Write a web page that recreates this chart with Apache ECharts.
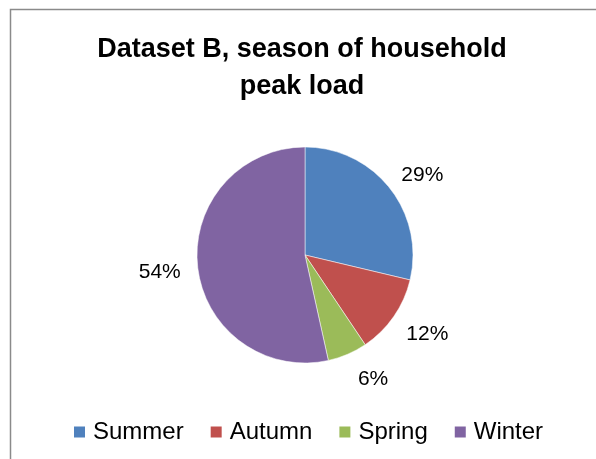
<!DOCTYPE html>
<html>
<head>
<meta charset="utf-8">
<script src="https://cdn.jsdelivr.net/npm/echarts@6/dist/echarts.min.js"></script>
<style>
  html, body { margin: 0; padding: 0; background: #fff; }
  #chart { width: 596px; height: 459px; }
</style>
</head>
<body>
<div id="chart"></div>
<script>
// data
const seasons = ['Summer', 'Autumn', 'Spring', 'Winter']
const shares = [29, 12, 6, 54]
const colors = ['#4F81BD', '#C0504D', '#9BBB59', '#8064A2']
const titleText = 'Dataset B, season of household\npeak load'

// the small bottom slice sits a bit further out, like Excel's best fit
const labelLines = {
    Spring: { length: 24, length2: -4 }
}

const myChart = echarts.init(document.getElementById('chart'))
const option = {
    animation: false,
    color: colors,
    title: {
        text: titleText,
        left: 297,
        top: 26,
        textAlign: 'center',
        textStyle: {
            fontFamily: 'Liberation Sans',
            fontWeight: 'bold',
            fontSize: 27,
            lineHeight: 37,
            color: '#000'
        }
    },
    graphic: [{
        type: 'rect',
        shape: { x: 10.5, y: 9.5, width: 700, height: 600 },
        style: { fill: 'none', stroke: '#8a8a8a', lineWidth: 1.5 },
        silent: true
    }],
    legend: {
        bottom: 10,
        left: 67,
        icon: 'rect',
        itemWidth: 13,
        itemHeight: 13,
        itemGap: 25,
        textStyle: {
            fontFamily: 'Liberation Sans',
            fontSize: 24,
            color: '#000',
            padding: [0, 0, 0, 2]
        },
        data: seasons
    },
    series: [{
        type: 'pie',
        center: [305, 255],
        radius: 108,
        startAngle: 90,
        clockwise: true,
        avoidLabelOverlap: false,
        label: {
            show: true,
            position: 'outside',
            formatter: p => '{v|' + p.value + '%}',
            rich: {
                v: {
                    fontFamily: 'Liberation Sans',
                    fontSize: 21,
                    color: '#000',
                    padding: [6, 0, 0, 0]
                }
            }
        },
        labelLine: { show: false, length: 25, length2: -13 },
        itemStyle: { borderColor: '#fff', borderWidth: 0.5 },
        data: seasons.map((s, i) => ({
            name: s,
            value: shares[i],
            labelLine: labelLines[s]
        }))
    }]
}
myChart.setOption(option)
</script>
</body>
</html>
